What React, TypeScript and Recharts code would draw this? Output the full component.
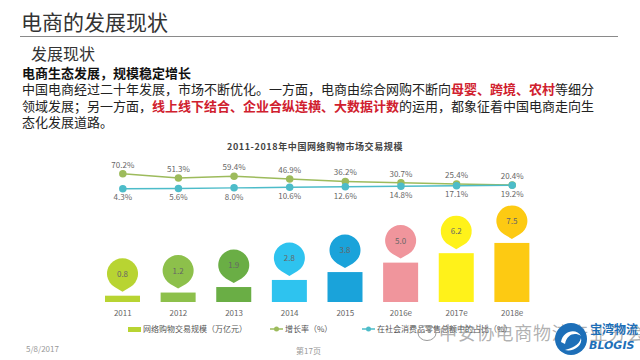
import { ComposedChart, Bar, Line, XAxis, YAxis, LabelList } from "recharts";

const categories = ["2011", "2012", "2013", "2014", "2015", "2016e", "2017e", "2018e"];
const marketScale = [0.8, 1.2, 1.9, 2.8, 3.8, 5.0, 6.2, 7.5];
const growthRate = [70.2, 51.3, 59.4, 46.9, 36.2, 30.7, 25.4, 20.4];
const retailShare = [4.3, 5.6, 8.0, 10.6, 12.6, 14.8, 17.1, 19.2];

const BAR_COLORS = ["#b8d432", "#8dc04b", "#6aae45", "#2ec3ef", "#1aa3da", "#f0959c", "#fff21a", "#fdca12"];
const GREEN = "#9dbb5c";
const BLUE = "#4dbcc9";
const FONT = "'Noto Sans CJK SC', 'Noto Sans', sans-serif";

const data = categories.map((year, i) => ({
    year,
    scale: marketScale[i],
    growth: growthRate[i],
    share: retailShare[i],
    color: BAR_COLORS[i],
}));

// bar plus a map-pin marker holding the value
const PinBar = (props: any) => {
    const { x, y, width, height, payload } = props;
    const cx = x + width / 2;
    const cy = y - 22;
    const r = 15.5;
    const d = 18;
    const a = Math.acos(r / d);
    const px = r * Math.sin(a);
    const py = r * Math.cos(a);
    const path = `M${cx},${cy + d} L${cx - px},${cy + py} A${r},${r} 0 1 1 ${cx + px},${cy + py} Z`;
    return (
        <g>
            <rect x={x} y={y} width={width} height={height} fill={payload.color} />
            <path d={path} fill={payload.color} />
            <text x={cx} y={cy + 3} textAnchor="middle" fontSize={8} fill="#666" fontFamily={FONT}>
                {payload.scale.toFixed(1)}
            </text>
        </g>
    );
};

const pct = (v: any) => `${Number(v).toFixed(1)}%`;

const LineIcon = ({ color }: { color: string }) => (
    <svg width={13} height={8} style={{ marginRight: 2 }}>
        <line x1={0} y1={4} x2={13} y2={4} stroke={color} strokeWidth={1.5} />
        <circle cx={6.5} cy={4} r={2.5} fill={color} />
    </svg>
);

export default function App() {
    const red = { color: "#d0202e", fontWeight: 700 };
    return (
        <div style={{ position: "absolute", left: 0, top: 0, width: 640, height: 360, background: "#fff", overflow: "hidden", fontFamily: FONT }}>
            <div style={{ position: "absolute", left: 21, top: 11, fontSize: 21, lineHeight: "21px", color: "#333", whiteSpace: "nowrap" }}>
                电商的发展现状
            </div>
            <div style={{ position: "absolute", left: 20, top: 36, width: 598, height: 1, background: "#8a8a8a" }} />
            <div style={{ position: "absolute", left: 31, top: 45, fontSize: 16, lineHeight: "16px", color: "#333", whiteSpace: "nowrap" }}>
                发展现状
            </div>
            <div style={{ position: "absolute", left: 22, top: 66, fontSize: 13, lineHeight: "13px", fontWeight: 700, color: "#111", whiteSpace: "nowrap" }}>
                电商生态发展，规模稳定增长
            </div>
            <div style={{ position: "absolute", left: 22, top: 81, fontSize: 13, lineHeight: "16.5px", color: "#222", whiteSpace: "nowrap" }}>
                中国电商经过二十年发展，市场不断优化。一方面，电商由综合网购不断向<span style={red}>母婴、跨境、农村</span>等细分<br />
                领域发展；另一方面，<span style={red}>线上线下结合、企业合纵连横、大数据计数</span>的运用，都象征着中国电商走向生<br />
                态化发展道路。
            </div>

            <div style={{ position: "absolute", left: 215, top: 141, width: 200, textAlign: "center", fontSize: 9, lineHeight: "12px", fontWeight: 700, color: "#444", letterSpacing: 0.6, whiteSpace: "nowrap" }}>
                2011-2018年中国网络购物市场交易规模
            </div>

            <div style={{ position: "absolute", left: 0, top: 140 }}>
                <ComposedChart width={640} height={220} data={data} margin={{ top: 10, right: 100, bottom: 38, left: 95 }}>
                    <XAxis
                        dataKey="year"
                        axisLine={false}
                        tickLine={false}
                        height={20}
                        interval={0}
                        tick={{ fontSize: 8, fill: "#666", fontFamily: FONT }}
                    />
                    <YAxis yAxisId="bar" hide domain={[0, 19.3]} />
                    <YAxis yAxisId="line" hide domain={[-492.5, 174.1]} />
                    <Bar yAxisId="bar" dataKey="scale" barSize={35} shape={PinBar} isAnimationActive={false} />
                    <Line yAxisId="line" dataKey="growth" stroke={GREEN} strokeWidth={1.5} dot={{ r: 3, fill: GREEN, stroke: GREEN }} isAnimationActive={false}>
                        <LabelList dataKey="growth" position="top" offset={6} formatter={pct} fontSize={8} fill="#666" fontFamily={FONT} />
                    </Line>
                    <Line yAxisId="line" dataKey="share" stroke={BLUE} strokeWidth={1.5} dot={{ r: 3, fill: BLUE, stroke: BLUE }} isAnimationActive={false}>
                        <LabelList dataKey="share" position="bottom" offset={6} formatter={pct} fontSize={8} fill="#666" fontFamily={FONT} />
                    </Line>
                </ComposedChart>
            </div>

            <div style={{ position: "absolute", left: 128, top: 323, fontSize: 8, lineHeight: "12px", color: "#555", whiteSpace: "nowrap", display: "flex", alignItems: "center" }}>
                <span style={{ display: "inline-block", width: 13, height: 5, background: BAR_COLORS[0], marginRight: 2 }} />
                网络购物交易规模（万亿元）
            </div>
            <div style={{ position: "absolute", left: 270, top: 323, fontSize: 8, lineHeight: "12px", color: "#555", whiteSpace: "nowrap", display: "flex", alignItems: "center" }}>
                <LineIcon color={GREEN} />
                增长率（%）
            </div>
            <div style={{ position: "absolute", left: 362, top: 323, fontSize: 8, lineHeight: "12px", color: "#555", whiteSpace: "nowrap", display: "flex", alignItems: "center" }}>
                <LineIcon color={BLUE} />
                在社会消费品零售总额中的占比（%）
            </div>

            <div style={{ position: "absolute", left: 26, top: 343, fontSize: 8, lineHeight: "12px", color: "#999" }}>5/8/2017</div>
            <div style={{ position: "absolute", left: 296, top: 345, fontSize: 8, lineHeight: "12px", color: "#999" }}>第17页</div>

            {/* watermark */}
            <svg style={{ position: "absolute", left: 417, top: 323 }} width={24} height={20}>
                <ellipse cx={10} cy={10} rx={9} ry={7.5} fill="none" stroke="#999" strokeWidth={1} />
                <circle cx={7} cy={9} r={1} fill="#999" />
                <circle cx={12} cy={9} r={1} fill="#999" />
            </svg>
            <div style={{ position: "absolute", left: 439, top: 321, fontSize: 18, lineHeight: "22px", color: "rgba(110,110,110,0.55)", letterSpacing: 0.8, whiteSpace: "nowrap" }}>
                中安协电商物流产业分会
            </div>

            <svg style={{ position: "absolute", left: 553, top: 320 }} width={36} height={38}>
                <circle cx={18} cy={19} r={16} fill="#1d6fb8" />
                <path d="M8,22 C10,10 24,8 28,16 C22,12 14,14 12,24 Z" fill="#fff" />
                <path d="M12,30 C20,32 30,26 28,18 C26,26 18,28 12,30 Z" fill="#fff" />
            </svg>
            <div style={{ position: "absolute", left: 590, top: 322, fontSize: 12, lineHeight: "14px", fontWeight: 700, color: "#1d6fb8", whiteSpace: "nowrap" }}>
                宝湾物流
            </div>
            <div style={{ position: "absolute", left: 589, top: 339, fontSize: 11, lineHeight: "14px", fontWeight: 700, fontStyle: "italic", color: "#1d6fb8", whiteSpace: "nowrap", fontFamily: "'DejaVu Sans', sans-serif" }}>
                BLOGIS
            </div>
        </div>
    );
}
